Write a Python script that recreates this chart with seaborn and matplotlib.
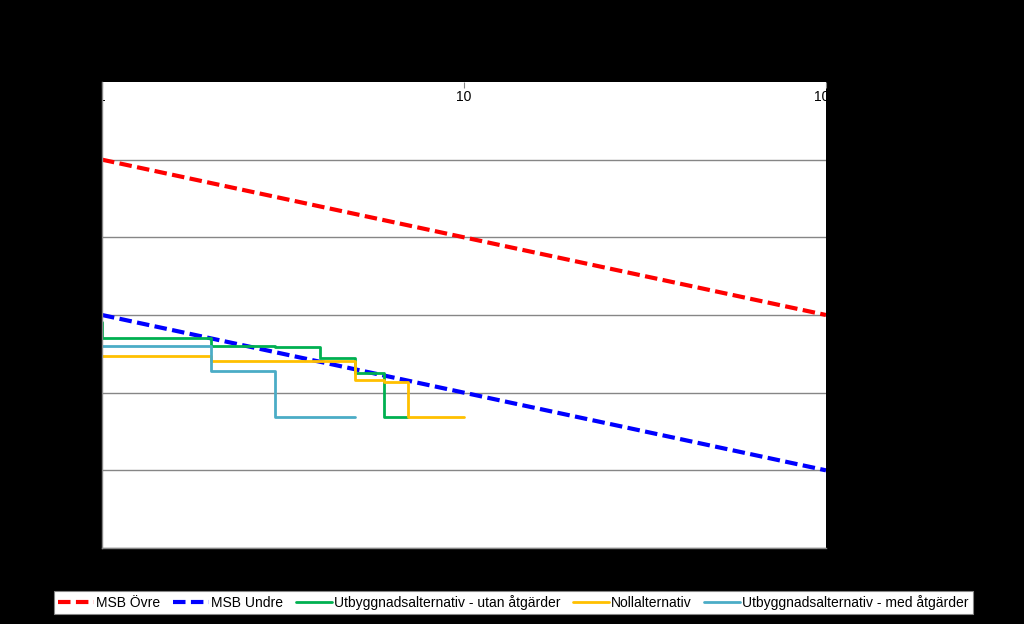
import numpy as np
import pandas as pd
import matplotlib
matplotlib.use("Agg")
import matplotlib.pyplot as plt
import seaborn as sns

# MSB criteria lines (F = C / N)
msb_n = [1, 100]
msb_ovre = [1e-4, 1e-6]
msb_undre = [1e-6, 1e-8]

# F/N step curves (frequency of N or more fatalities per year)
utan_n = [1, 1, 2, 3, 4, 5, 6, 7]
utan_f = [8.1e-7, 5.1e-7, 4.0e-7, 3.9e-7, 2.8e-7, 1.8e-7, 4.8e-8, 4.8e-8]

noll_n = [1, 2, 5, 6, 7, 10]
noll_f = [3.0e-7, 2.57e-7, 1.47e-7, 1.38e-7, 4.8e-8, 4.8e-8]

med_n = [1, 2, 3, 5]
med_f = [4.0e-7, 1.91e-7, 4.8e-8, 4.8e-8]

x_ticks = [1, 10, 100]
y_ticks = [1e-9, 1e-8, 1e-7, 1e-6, 1e-5, 1e-4, 1e-3]
y_labels = ["1E-09", "1E-08", "1E-07", "1E-06", "1E-05", "1E-04", "1E-03"]

sns.set_style("white")
plt.rcParams["font.family"] = ["Liberation Sans", "DejaVu Sans"]

fig = plt.figure(figsize=(10.24, 6.24), dpi=100, facecolor="black")
ax = fig.add_axes([0.0996, 0.1218, 0.7070, 0.7468])
ax.set_facecolor("white")

dash = [3, 1.3]
sns.lineplot(x=msb_n, y=msb_ovre, color="#FF0000", linewidth=3, ax=ax, label="MSB Övre")
ax.lines[-1].set_dashes(dash)
sns.lineplot(x=msb_n, y=msb_undre, color="#0000FF", linewidth=3, ax=ax, label="MSB Undre")
ax.lines[-1].set_dashes(dash)
step_kw = dict(linewidth=2, ax=ax, sort=False, estimator=None, drawstyle="steps-post")
sns.lineplot(x=utan_n, y=utan_f, color="#00B050",
             label="Utbyggnadsalternativ - utan åtgärder", **step_kw)
sns.lineplot(x=noll_n, y=noll_f, color="#FFC000", label="Nollalternativ", **step_kw)
sns.lineplot(x=med_n, y=med_f, color="#4BACC6",
             label="Utbyggnadsalternativ - med åtgärder", **step_kw)

ax.set_xscale("log")
ax.set_yscale("log")
ax.set_xlim(1, 100)
ax.set_ylim(1e-9, 1e-3)
ax.set_xticks(x_ticks)
ax.set_xticklabels([str(t) for t in x_ticks])
ax.minorticks_off()
ax.set_yticks(y_ticks)
ax.set_yticklabels(y_labels, color="black", fontsize=10)
ax.xaxis.tick_top()
ax.tick_params(axis="x", direction="in", length=4, color="#868686", pad=-16, labelsize=10,
               labelcolor="black")
ax.tick_params(axis="y", direction="out", length=3, color="#868686")
ax.yaxis.grid(True, color="#868686", linewidth=1)
ax.xaxis.grid(False)
# no gridline along the top edge
ax.yaxis.get_gridlines()[-1].set_visible(False)
for s in ["left", "bottom"]:
    ax.spines[s].set_color("#868686")
    ax.spines[s].set_linewidth(1)
ax.spines["right"].set_visible(False)
ax.spines["top"].set_visible(False)
ax.set_xlabel("")
ax.set_ylabel("")

handles, labels = ax.get_legend_handles_labels()
ax.legend_.remove()
leg = fig.legend(handles, labels, loc="center", bbox_to_anchor=(0.5015, 0.034), ncol=5,
                 fontsize=10, frameon=True, fancybox=False, edgecolor="#868686",
                 framealpha=1, handlelength=2.6, handletextpad=0.15, columnspacing=0.9,
                 borderpad=0.3, borderaxespad=0, labelcolor="black")
leg.get_frame().set_facecolor("white")
leg.get_frame().set_linewidth(0.8)

fig.savefig("out.png", dpi=100, facecolor=fig.get_facecolor())
